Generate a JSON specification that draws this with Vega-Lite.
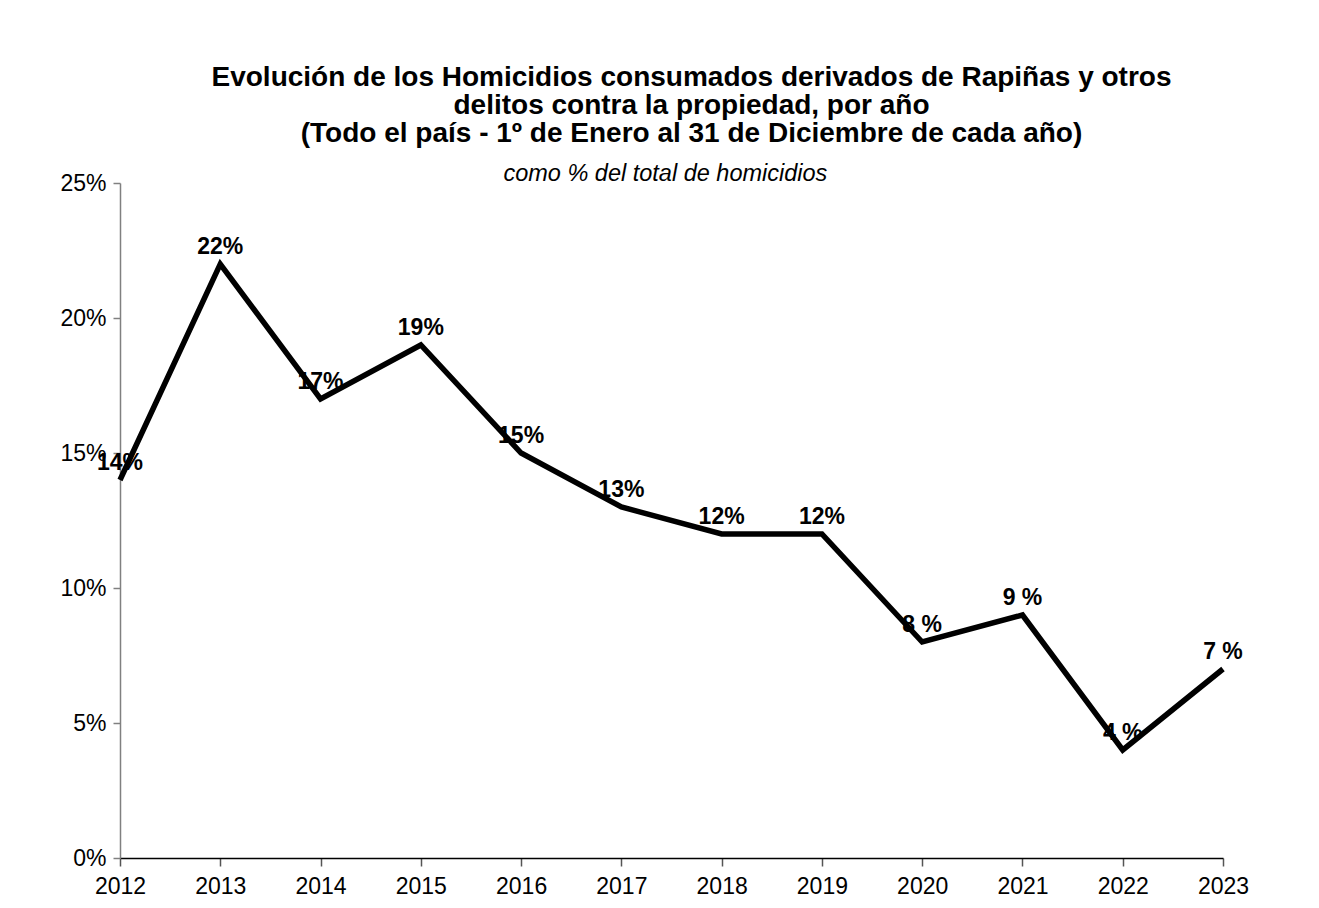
{
  "$schema": "https://vega.github.io/schema/vega-lite/v6.json",
  "width": 1103,
  "height": 675,
  "autosize": {"type": "none"},
  "padding": {"left": 120, "top": 183, "right": 96, "bottom": 50},
  "background": "white",
  "config": {
    "view": {"stroke": null},
    "font": "Liberation Sans"
  },
  "title": {
    "text": ["Evolución de los Homicidios consumados derivados de Rapiñas y otros", "delitos contra la propiedad, por año", "(Todo el país - 1º de Enero al 31 de Diciembre de cada año)"],
    "subtitle": "como % del total de homicidios\u00a0\u00a0\u00a0\u00a0\u00a0\u00a0\u00a0\u00a0\u200b",
    "font": "Liberation Sans",
    "fontSize": 28,
    "fontWeight": "bold",
    "lineHeight": 28,
    "color": "black",
    "subtitleFont": "Liberation Sans",
    "subtitleFontSize": 23.5,
    "subtitleFontStyle": "italic",
    "subtitleColor": "black",
    "subtitlePadding": 14,
    "anchor": "middle",
    "dx": 20,
    "offset": -13
  },
  "data": {
    "values": [
      {"year": "2012", "value": 14, "label": "14%"},
      {"year": "2013", "value": 22, "label": "22%"},
      {"year": "2014", "value": 17, "label": "17%"},
      {"year": "2015", "value": 19, "label": "19%"},
      {"year": "2016", "value": 15, "label": "15%"},
      {"year": "2017", "value": 13, "label": "13%"},
      {"year": "2018", "value": 12, "label": "12%"},
      {"year": "2019", "value": 12, "label": "12%"},
      {"year": "2020", "value": 8, "label": "8 %"},
      {"year": "2021", "value": 9, "label": "9 %"},
      {"year": "2022", "value": 4, "label": "4 %"},
      {"year": "2023", "value": 7, "label": "7 %"}
    ]
  },
  "encoding": {
    "x": {
      "field": "year",
      "type": "ordinal",
      "scale": {"type": "point", "padding": 0},
      "axis": {
        "title": null,
        "labelAngle": 0,
        "labelFont": "Liberation Sans",
        "labelFontSize": 23,
        "labelColor": "black",
        "labelPadding": 9,
        "domainColor": "black",
        "domainWidth": 1.5,
        "tickColor": "#555555",
        "tickSize": 8,
        "tickWidth": 1.5,
        "grid": false
      }
    },
    "y": {
      "field": "value",
      "type": "quantitative",
      "scale": {"domain": [0, 25], "nice": false},
      "axis": {
        "title": null,
        "values": [0, 5, 10, 15, 20, 25],
        "labelExpr": "datum.value + '%'",
        "labelFont": "Liberation Sans",
        "labelFontSize": 23,
        "labelColor": "black",
        "labelPadding": 7,
        "domainColor": "#808080",
        "domainWidth": 1.5,
        "tickColor": "#808080",
        "tickSize": 7,
        "tickWidth": 1.5,
        "grid": false
      }
    }
  },
  "layer": [
    {
      "mark": {"type": "text", "font": "Liberation Sans", "fontSize": 23, "fontWeight": "bold", "color": "black", "baseline": "middle", "align": "center", "dy": -17},
      "encoding": {"text": {"field": "label"}}
    },
    {
      "mark": {"type": "line", "color": "black", "strokeWidth": 5.5, "strokeJoin": "miter"}
    }
  ]
}
